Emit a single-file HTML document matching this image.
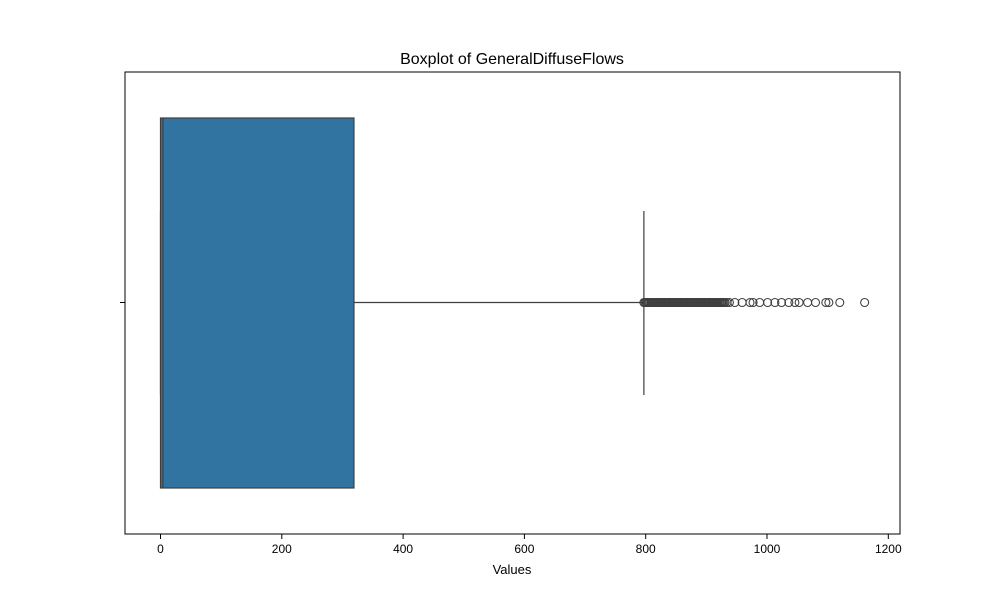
<!DOCTYPE html>
<html><head><meta charset="utf-8"><style>
body{margin:0;background:#fff;font-family:"Liberation Sans","DejaVu Sans",sans-serif}
</style></head><body>
<svg id="chart" width="1000" height="600" xmlns="http://www.w3.org/2000/svg">
<rect width="1000" height="600" fill="#fff"/>
<text x="512" y="64" font-size="16" text-anchor="middle" fill="#000">Boxplot of GeneralDiffuseFlows</text>
<text x="512" y="574" font-size="13" text-anchor="middle" fill="#000">Values</text>
<g id="plot"></g>
</svg>
<script>
const ticks=[0,200,400,600,800,1000,1200];
const boxStats=[0,0,4,319,797]; // whiskerLow, q1, median, q3, whiskerHigh
const outliers=[797,799,801,803,805,807,809,811,813,815,817,819,821,823,825,827,829,831,833,835,837,839,841,843,845,847,849,851,853,855,857,859,861,863,865,867,869,871,873,875,877,879,881,883,885,887,889,891,893,895,897,899,901,903,905,907,909,911,913,915,917,919,921,923,925,927,929,931,934,938,947,959,972,977,988,1001,1013,1024,1036,1046,1053,1067,1080,1097,1102,1120,1161];
const L=125,R=900,T=72,B=534,CY=302.5;
const x=v=>160.5+v*0.6065;
const NS="http://www.w3.org/2000/svg";
const g=document.getElementById('plot');
function mk(t,a){const e=document.createElementNS(NS,t);for(const k in a)e.setAttribute(k,a[k]);g.appendChild(e);return e;}
let e;
e=mk('line',{x1:x(boxStats[3]),x2:x(boxStats[4]),y1:CY,y2:CY,stroke:'#3f3f3f','stroke-width':1.2});


e=mk('line',{x1:x(boxStats[4]),x2:x(boxStats[4]),y1:211,y2:395,stroke:'#3f3f3f','stroke-width':1.2});


e=mk('line',{x1:x(boxStats[0]),x2:x(boxStats[0]),y1:211,y2:395,stroke:'#3f3f3f','stroke-width':1.2});


e=mk('rect',{x:x(boxStats[1]),y:118,width:x(boxStats[3])-x(boxStats[1]),height:370,fill:'#3274a1',stroke:'#3f3f3f','stroke-width':1.2});


e=mk('line',{x1:x(boxStats[2]),x2:x(boxStats[2]),y1:118,y2:488,stroke:'#3f3f3f','stroke-width':1.2});


outliers.forEach(v=>{
 const c=mk('circle',{cx:x(v),cy:CY,r:4,fill:'none',stroke:'#3f3f3f','stroke-width':1.1});
 
 
});
e=mk('rect',{x:L,y:T,width:R-L,height:B-T,fill:'none',stroke:'#000','stroke-width':1});


e=mk('line',{x1:L-5,x2:L,y1:CY,y2:CY,stroke:'#000','stroke-width':1});


ticks.forEach(t=>{
 const l=mk('line',{x1:x(t),x2:x(t),y1:B,y2:B+5,stroke:'#000','stroke-width':1});
 
 
 const s=mk('text',{x:x(t),y:B+19,'font-size':12,'text-anchor':'middle',fill:'#000'});
 s.textContent=t;
 
 
});
</script>
</body></html>
